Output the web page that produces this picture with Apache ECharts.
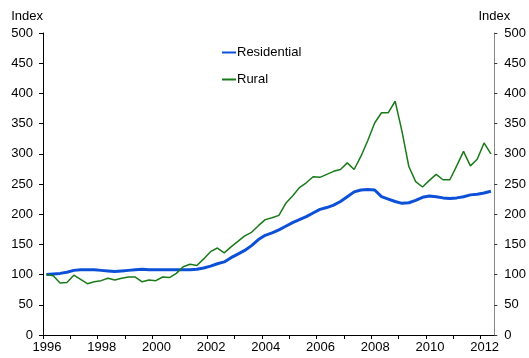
<!DOCTYPE html>
<html>
<head>
<meta charset="utf-8">
<script src="https://cdn.jsdelivr.net/npm/echarts@6/dist/echarts.min.js"></script>
<style>
html,body{margin:0;padding:0;background:#fff;}
#chart{width:529px;height:358px;}
</style>
</head>
<body>
<div id="chart"></div>
<script>
// Quarterly index values, 1996 Q1 onwards (1996 Q1 = 100)
const startYear = 1996;
const residential = [
  100, 101, 102, 104,
  107, 108, 108, 108,
  107, 106, 105, 106,
  107, 108, 109, 108,
  108, 108, 108, 108,
  108, 108, 109, 111,
  114, 118, 121, 128,
  134, 140, 148, 158,
  165, 169, 174, 180,
  186, 191, 196, 202,
  208, 211, 215, 221,
  229, 237, 240, 241,
  240, 229, 225, 221,
  218, 219, 223, 228,
  230, 229, 227, 226,
  227, 229, 232, 233,
  235, 238
];
const rural = [
  100, 98, 86, 87,
  99, 92, 85, 88,
  90, 94, 91, 94,
  96, 96, 88, 91,
  90, 96, 95, 102,
  113, 117, 115, 126,
  138, 144, 136, 146,
  155, 164, 170, 181,
  191, 194, 198, 218,
  230, 244, 252, 262,
  261, 266, 271, 274,
  285, 274, 296, 322,
  351, 368, 368, 387,
  337, 279, 254, 245,
  256, 266, 257, 257,
  280, 304, 280, 291,
  318, 300
];
const seriesNames = ['Residential', 'Rural'];
const yTicks = [0, 50, 100, 150, 200, 250, 300, 350, 400, 450, 500];
const xLabelYears = [1996, 1998, 2000, 2002, 2004, 2006, 2008, 2010, 2012];

// each quarter plotted at its mid-point
function toPoints(vals) {
  return vals.map((v, i) => [startYear + (i + 0.5) / 4, v]);
}

const font = 'Liberation Sans, Arial, sans-serif';
const chart = echarts.init(document.getElementById('chart'));
const yAxisBase = {
  type: 'value',
  min: yTicks[0],
  max: yTicks[yTicks.length - 1],
  interval: 50,
  splitLine: { show: false },
  axisLabel: { color: '#000', fontSize: 13, fontFamily: font, margin: 10 }
};
chart.setOption({
  animation: false,
  backgroundColor: '#fff',
  textStyle: { fontFamily: font },
  grid: { left: 43, right: 32, top: 33, bottom: 23, containLabel: false },
  legend: {
    orient: 'vertical',
    left: 217,
    top: 41,
    itemGap: 14,
    itemWidth: 14,
    itemHeight: 2,
    icon: 'rect',
    data: seriesNames,
    textStyle: { color: '#000', fontSize: 13, fontFamily: font, padding: [0, 0, 0, -4] }
  },
  xAxis: {
    type: 'value',
    min: 1996,
    max: 2012.5,
    interval: 1,
    splitLine: { show: false },
    axisLine: { lineStyle: { color: '#000', width: 1 } },
    axisTick: { show: true, length: 4, lineStyle: { color: '#000' } },
    axisLabel: {
      color: '#000', fontSize: 13, fontFamily: font, margin: 6,
      showMaxLabel: false,
      padding: [0, 0, 0, 8],
      formatter: v => (xLabelYears.indexOf(Math.round(v)) >= 0 && Math.abs(v - Math.round(v)) < 1e-6) ? String(Math.round(v)) : ''
    }
  },
  yAxis: [
    Object.assign({}, yAxisBase, {
      position: 'left',
      name: 'Index',
      nameGap: 10,
      nameTextStyle: { color: '#000', fontSize: 13, fontFamily: font, align: 'right', padding: [0, 0, 0, 0] },
      axisLine: { show: true, lineStyle: { color: '#000' } },
      axisTick: { show: true, length: 4, lineStyle: { color: '#000' } }
    }),
    Object.assign({}, yAxisBase, {
      position: 'right',
      name: 'Index',
      nameGap: 10,
      nameTextStyle: { color: '#000', fontSize: 13, fontFamily: font, align: 'center' },
      axisLine: { show: true, lineStyle: { color: '#888' } },
      axisTick: { show: true, length: 3, lineStyle: { color: '#333' } }
    })
  ],
  series: [
    {
      name: seriesNames[0],
      type: 'line',
      data: toPoints(residential),
      showSymbol: false,
      symbol: 'none',
      color: '#0d50d8',
      lineStyle: { color: '#0d50d8', width: 3 }
    },
    {
      name: seriesNames[1],
      type: 'line',
      data: toPoints(rural),
      showSymbol: false,
      symbol: 'none',
      color: '#1a7a1a',
      lineStyle: { color: '#1a7a1a', width: 1.5 }
    }
  ]
});
</script>
</body>
</html>
